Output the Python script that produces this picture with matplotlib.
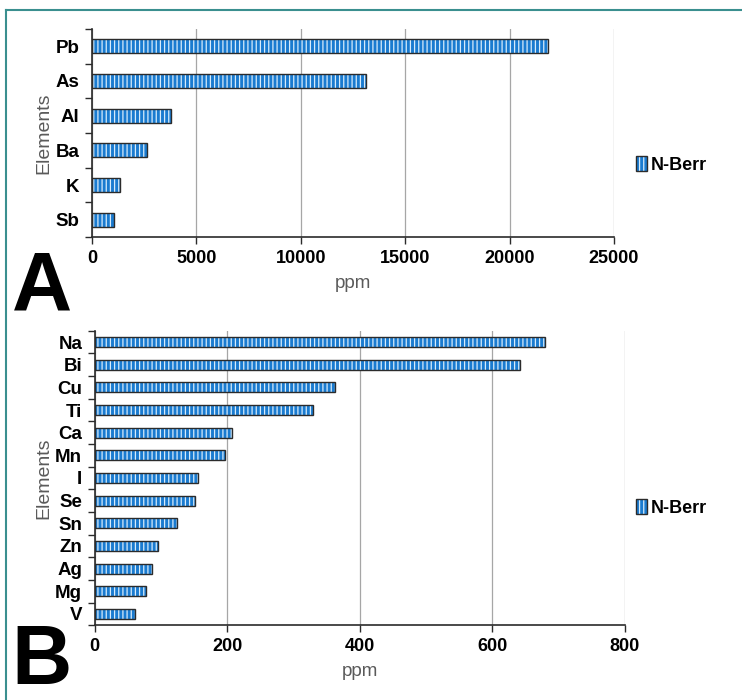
import matplotlib
matplotlib.use("Agg")
import matplotlib.pyplot as plt
from matplotlib.patches import Patch
from matplotlib.legend_handler import HandlerTuple
from matplotlib.lines import Line2D
import numpy as np

# element concentrations (ppm), top to bottom as listed
elements_a = ["Pb", "As", "Al", "Ba", "K", "Sb"]
ppm_a = [21830, 13110, 3770, 2610, 1340, 1045]

elements_b = ["Na", "Bi", "Cu", "Ti", "Ca", "Mn", "I", "Se", "Sn", "Zn", "Ag", "Mg", "V"]
ppm_b = [680, 642, 362, 329, 208, 196, 156, 152, 124, 96, 86, 78, 61]

series_name = "N-Berr"
xticks_a = [0, 5000, 10000, 15000, 20000, 25000]
xticks_b = [0, 200, 400, 600, 800]

BLUE = "#1a7bd0"
STRIPE = "#d6ebfb"
EDGE = "#2b2b2b"
NARROW = ["Liberation Sans Narrow", "Liberation Sans", "DejaVu Sans"]

plt.rcParams["font.family"] = ["Liberation Sans", "DejaVu Sans"]
plt.rcParams["hatch.linewidth"] = 0.9

fig = plt.figure(figsize=(7.42, 7.0), dpi=100)


def draw_panel(rect, names, values, xticks, bar_h, legend_y, letter, letter_y):
    ax = fig.add_axes(rect)
    pos = np.arange(len(names))[::-1]
    ax.barh(pos, values, height=bar_h, color=BLUE, edgecolor=STRIPE,
            hatch="||||", linewidth=0, zorder=2)
    ax.barh(pos, values, height=bar_h, facecolor="none", edgecolor=EDGE,
            linewidth=1.0, zorder=3)
    ax.set_ylim(-0.5, len(names) - 0.5)
    ax.set_xlim(xticks[0], xticks[-1])
    ax.set_xticks(xticks)
    ax.set_xticklabels([str(v) for v in xticks], family=NARROW,
                       fontweight="bold", fontsize=13)
    ax.set_yticks(pos)
    ax.set_yticklabels(names, family=NARROW, fontweight="bold", fontsize=13.5)
    ax.set_yticks(np.arange(len(names) + 1) - 0.5, minor=True)
    ax.tick_params(axis="y", which="major", length=0, pad=9)
    ax.tick_params(axis="y", which="minor", length=5, color=EDGE, width=1)
    ax.tick_params(axis="x", length=5, color=EDGE, width=1, pad=4)
    ax.xaxis.grid(True, color="#a6a6a6", linewidth=0.9, zorder=0)
    ax.set_axisbelow(True)
    for side in ("top", "right"):
        ax.spines[side].set_visible(False)
    for side in ("left", "bottom"):
        ax.spines[side].set_color(EDGE)
        ax.spines[side].set_linewidth(1.2)
    ax.set_ylabel("Elements", fontsize=14, color="#5a5a5a", labelpad=2)
    ax.set_xlabel("ppm", fontsize=13.5, color="#5a5a5a", labelpad=6)

    fill = Patch(facecolor=BLUE, edgecolor=STRIPE, hatch="||||", linewidth=0)
    outline = Patch(facecolor="none", edgecolor=EDGE, linewidth=1.0)
    fig.legend(handles=[(fill, outline)], labels=[series_name],
               handler_map={tuple: HandlerTuple(ndivide=1)},
               loc="center left", bbox_to_anchor=(0.835, legend_y),
               frameon=False, handlelength=0.6, handleheight=0.9,
               handletextpad=0.2,
               prop={"family": NARROW, "weight": "bold", "size": 13})

    fig.text(0.016, letter_y, letter, fontsize=60, fontweight="bold",
             ha="left", va="baseline", color="black")
    return ax


draw_panel([0.124, 0.6614, 0.7035, 0.2972], elements_a, ppm_a, xticks_a,
           0.40, 0.764, "A", 1 - 311 / 700)
draw_panel([0.1276, 0.1067, 0.7143, 0.4209], elements_b, ppm_b, xticks_b,
           0.44, 0.274, "B", 1 - 684 / 700)

# teal frame edges along the top and left
frame = "#3a8f8f"
fig.add_artist(Line2D([6 / 742, 6 / 742], [0, 1 - 10 / 700], color=frame,
                      linewidth=1.5, transform=fig.transFigure))
fig.add_artist(Line2D([6 / 742, 1], [1 - 10 / 700, 1 - 10 / 700], color=frame,
                      linewidth=1.5, transform=fig.transFigure))

fig.savefig("out.png", dpi=100)
